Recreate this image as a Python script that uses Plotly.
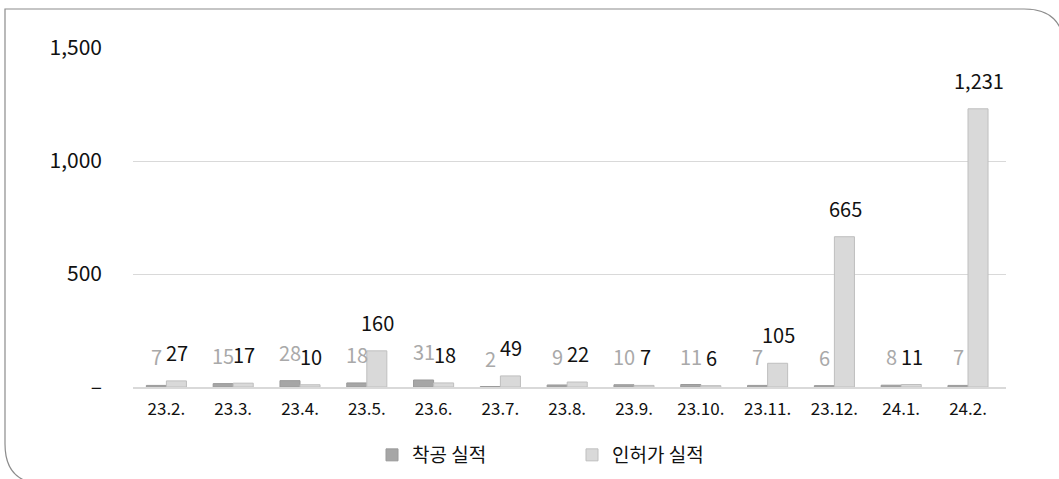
import plotly.graph_objects as go

categories = ["23.2.", "23.3.", "23.4.", "23.5.", "23.6.", "23.7.", "23.8.",
              "23.9.", "23.10.", "23.11.", "23.12.", "24.1.", "24.2."]
start_vals = [7, 15, 28, 18, 31, 2, 9, 10, 11, 7, 6, 8, 7]
permit_vals = [27, 17, 10, 160, 18, 49, 22, 7, 6, 105, 665, 11, 1231]
y_tickvals = [0, 500, 1000, 1500]
y_ticktext = ["–", "500", "1,000", "1,500"]
series_names = ["착공 실적", "인허가 실적"]

W, H = 1059, 479
L, R, T, B = 133, 53, 48, 92
PW, PH = W - L - R, H - T - B
FONT = "Noto Sans CJK KR, Noto Sans, sans-serif"

fig = go.Figure()
fig.add_trace(go.Bar(x=categories, y=start_vals, name=series_names[0],
                     marker=dict(color="#a6a6a6", line=dict(color="#9a9a9a", width=1))))
fig.add_trace(go.Bar(x=categories, y=permit_vals, name=series_names[1],
                     marker=dict(color="#d9d9d9", line=dict(color="#bfbfbf", width=1))))

annotations = []
for c, v in zip(categories, start_vals):
    annotations.append(dict(x=c, y=v, text=str(v), showarrow=False, xshift=-10,
                            yshift=12, yanchor="bottom",
                            font=dict(size=20, color="#a9a9a9", family=FONT)))
for c, v in zip(categories, permit_vals):
    annotations.append(dict(x=c, y=v, text=f"{v:,}", showarrow=False, xshift=11,
                            yshift=12, yanchor="bottom",
                            font=dict(size=20, color="#111111", family=FONT)))


def px(x):
    return (x - L) / PW


def py(y):
    return (T + PH - y) / PH


# rounded frame (partially cropped)
x0, y0, x1, y1, r = 5, 9, 1064, 484, 40
path = (f"M {px(x0)},{py(y0 + r)} "
        f"L {px(x0)},{py(y1 - r)} "
        f"Q {px(x0)},{py(y1)} {px(x0 + r)},{py(y1)} "
        f"L {px(x1 - r)},{py(y1)} "
        f"L {px(x1)},{py(y1)} L {px(x1)},{py(y0 + r)} "
        f"Q {px(x1)},{py(y0)} {px(x1 - r)},{py(y0)} "
        f"L {px(x0)},{py(y0)} Z")
shapes = [dict(type="path", xref="paper", yref="paper", path=path,
               line=dict(color="#8c8c8c", width=1.2), fillcolor="rgba(0,0,0,0)",
               layer="below")]

fig.update_layout(
    width=W, height=H, autosize=False,
    margin=dict(l=L, r=R, t=T, b=B, autoexpand=False),
    paper_bgcolor="white", plot_bgcolor="white",
    barmode="group", bargap=0.4, bargroupgap=0,
    font=dict(family=FONT, color="#111111"),
    showlegend=True,
    legend=dict(orientation="h", x=px(372), xanchor="left", y=py(455), yanchor="middle",
                font=dict(size=19, family=FONT, color="#111111"),
                entrywidth=155, entrywidthmode="pixels",
                itemwidth=30, traceorder="normal"),
    annotations=annotations,
    shapes=shapes,
    xaxis=dict(type="category", showgrid=False, showline=True, linecolor="#d9d9d9",
               linewidth=1.5, ticks="", tickfont=dict(size=17, color="#111111"),
               ticklabelstandoff=6, automargin=False),
    yaxis=dict(range=[0, 1500], tickvals=y_tickvals, ticktext=y_ticktext,
               showgrid=True, gridcolor="#d9d9d9", gridwidth=1, zeroline=False,
               showline=False, ticks="", tickfont=dict(size=21, color="#111111"),
               ticklabelstandoff=30, automargin=False),
)

fig.write_html("out.html",
               config={"responsive": False, "displayModeBar": False},
               post_script="document.body.style.margin='0';document.body.style.overflow='hidden';")
